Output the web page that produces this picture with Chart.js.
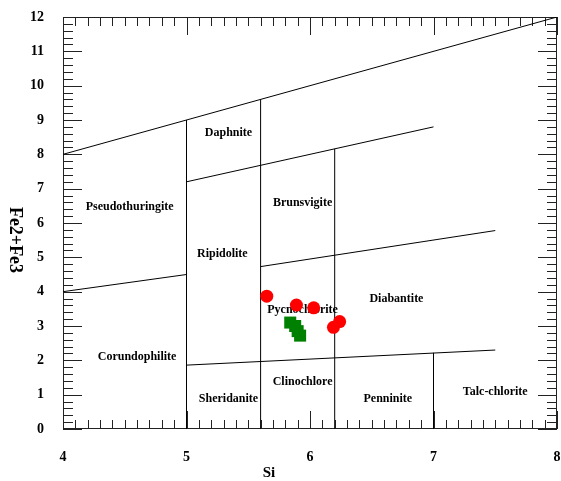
<!DOCTYPE html>
<html>
<head>
<meta charset="utf-8">
<script src="https://cdn.jsdelivr.net/npm/chart.js@4/dist/chart.umd.min.js"></script>
<style>
  body { margin: 0; background: #fff; }
</style>
</head>
<body>
<canvas id="chlorite" width="561" height="481"></canvas>
<script>
// sample points (Si, Fe2+Fe3)
const redPoints = [
    { x: 5.65, y: 3.87 },
    { x: 5.89, y: 3.61 },
    { x: 6.03, y: 3.53 },
    { x: 6.19, y: 2.96 },
    { x: 6.24, y: 3.13 }
];
const greenPoints = [
    { x: 5.84, y: 3.10 },
    { x: 5.88, y: 3.00 },
    { x: 5.90, y: 2.85 },
    { x: 5.92, y: 2.72 }
];

// field boundaries
const upperLine = [{ x: 4, y: 8 }, { x: 8, y: 12 }];
const daphniteLine = [{ x: 5, y: 7.2 }, { x: 7, y: 8.8 }];
const midLineLeft = [{ x: 4, y: 4 }, { x: 5, y: 4.5 }];
const midLineRight = [{ x: 5.6, y: 4.73 }, { x: 7.5, y: 5.78 }];
const lowerLine = [{ x: 5, y: 1.86 }, { x: 7.5, y: 2.3 }];
const vertical5 = [{ x: 5, y: 0 }, { x: 5, y: 9 }];
const vertical56 = [{ x: 5.6, y: 0 }, { x: 5.6, y: 9.6 }];
const vertical62 = [{ x: 6.2, y: 0 }, { x: 6.2, y: 8.16 }];
const vertical7 = [{ x: 7, y: 0 }, { x: 7, y: 2.22 }];

// field names
const fieldNames = ['Daphnite', 'Pseudothuringite', 'Brunsvigite', 'Ripidolite', 'Pycnochlorite',
    'Diabantite', 'Corundophilite', 'Clinochlore', 'Sheridanite', 'Penninite', 'Talc-chlorite'];
const fieldX = [5.34, 4.54, 5.94, 5.29, 5.94, 6.70, 4.60, 5.94, 5.34, 6.63, 7.50];
const fieldY = [8.62, 6.47, 6.58, 5.10, 3.47, 3.79, 2.10, 1.37, 0.87, 0.87, 1.08];

const xTicks = [4, 5, 6, 7, 8];
const yTicks = [0, 1, 2, 3, 4, 5, 6, 7, 8, 9, 10, 11, 12];

const serif = '"Liberation Serif", "Times New Roman", serif';

function boundary(pts) {
    return {
        type: 'line',
        data: pts,
        borderColor: '#000',
        borderWidth: 1,
        pointRadius: 0,
        fill: false,
        order: 2
    };
}

const decor = {
    id: 'decor',
    beforeDatasetsDraw(chart) {
        const ctx = chart.ctx;
        const a = chart.chartArea;
        const sx = chart.scales.x, sy = chart.scales.y;
        ctx.save();
        ctx.strokeStyle = '#222';
        ctx.lineWidth = 1;
        ctx.strokeRect(a.left + 0.5, a.top + 0.5, a.right - a.left - 1, a.bottom - a.top - 1);
        ctx.beginPath();
        // x ticks, bottom and top, every 0.1
        for (let i = 0; i <= 40; i++) {
            const px = Math.round(sx.getPixelForValue(4 + i / 10)) + 0.5;
            const len = i % 10 === 0 ? 18 : 9;
            ctx.moveTo(px, a.bottom); ctx.lineTo(px, a.bottom - len);
            ctx.moveTo(px, a.top); ctx.lineTo(px, a.top + len);
        }
        // y ticks, left and right, every 0.2
        for (let i = 0; i <= 60; i++) {
            const py = Math.round(sy.getPixelForValue(i / 5)) + 0.5;
            const len = i % 5 === 0 ? 19 : 10;
            ctx.moveTo(a.left, py); ctx.lineTo(a.left + len, py);
            ctx.moveTo(a.right, py); ctx.lineTo(a.right - len, py);
        }
        ctx.stroke();

        ctx.fillStyle = '#000';
        ctx.font = 'bold 12px ' + serif;
        ctx.textAlign = 'center';
        ctx.textBaseline = 'middle';
        fieldNames.forEach((n, i) => {
            ctx.fillText(n, sx.getPixelForValue(fieldX[i]), sy.getPixelForValue(fieldY[i]));
        });

        // axis titles
        ctx.font = 'bold 15px ' + serif;
        ctx.fillText('Si', 269, 473);
        ctx.font = 'bold 18px ' + serif;
        ctx.translate(15, 240);
        ctx.rotate(Math.PI / 2);
        ctx.fillText('Fe2+Fe3', 0, 0);
        ctx.restore();
    }
};

function noPad(s) {
    s.paddingLeft = 0; s.paddingRight = 0; s.paddingTop = 0; s.paddingBottom = 0;
}

new Chart(document.getElementById('chlorite'), {
    type: 'scatter',
    data: {
        datasets: [
            boundary(upperLine),
            boundary(daphniteLine),
            boundary(midLineLeft),
            boundary(midLineRight),
            boundary(lowerLine),
            boundary(vertical5),
            boundary(vertical56),
            boundary(vertical62),
            boundary(vertical7),
            {
                data: greenPoints,
                pointStyle: 'rect',
                pointRadius: 8.5,
                backgroundColor: '#008000',
                borderWidth: 0,
                order: 1
            },
            {
                data: redPoints,
                pointStyle: 'circle',
                pointRadius: 6.5,
                backgroundColor: '#ff0000',
                borderWidth: 0,
                order: 0
            }
        ]
    },
    options: {
        responsive: false,
        animation: false,
        layout: { autoPadding: false, padding: { top: 17, right: 4, left: 0, bottom: 0 } },
        plugins: { legend: { display: false }, tooltip: { enabled: false } },
        scales: {
            x: {
                type: 'linear',
                min: 4, max: 8,
                afterBuildTicks: s => { s.ticks = xTicks.map(v => ({ value: v })); },
                afterFit: s => { s.height = 52; noPad(s); },
                grid: { display: false, drawTicks: false },
                border: { display: false },
                ticks: { color: '#000', padding: 20, maxRotation: 0, font: { family: serif, size: 14, weight: 'bold' } }
            },
            y: {
                type: 'linear',
                min: 0, max: 12,
                afterBuildTicks: s => { s.ticks = yTicks.map(v => ({ value: v })); },
                afterFit: s => { s.width = 63; noPad(s); },
                grid: { display: false, drawTicks: false },
                border: { display: false },
                ticks: { color: '#000', padding: 19, font: { family: serif, size: 14, weight: 'bold' } }
            }
        }
    },
    plugins: [decor]
});
</script>
</body>
</html>
